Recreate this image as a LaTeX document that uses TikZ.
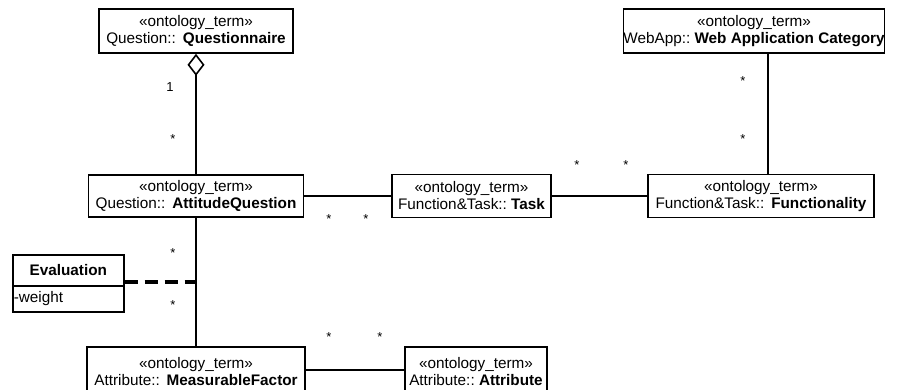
\documentclass[tikz,border=0pt]{standalone}
\usepackage{fontspec}
\setmainfont{Liberation Sans}
\usetikzlibrary{arrows.meta}
\begin{document}
\begin{tikzpicture}[x=1pt,y=-1pt,
  cls/.style={draw,line width=1.6pt,inner sep=0pt,align=center,font=\fontsize{15.3}{17}\selectfont,fill=white},
  conn/.style={line width=1.6pt},
  mult/.style={font=\fontsize{13}{14}\selectfont,inner sep=0pt}]
\useasboundingbox (0,0) rectangle (901,389);
\node[cls,minimum width=194,minimum height=44] (Q) at (196,31) {«ontology\_term»\\Question::\hspace{0.45em}\textbf{Questionnaire}};
\node[cls,minimum width=258,minimum height=44] (W) at (754,31) {«ontology\_term»\\WebApp::\ \textbf{Web Application Category}};
\node[cls,minimum width=215,minimum height=42] (AQ) at (196,196) {«ontology\_term»\\Question::\hspace{0.45em}\textbf{AttitudeQuestion}};
\node[cls,minimum width=159,minimum height=43] (T) at (471.5,196) {«ontology\_term»\\Function\&Task::\ \textbf{Task}};
\node[cls,minimum width=226,minimum height=43] (F) at (761,196) {«ontology\_term»\\Function\&Task::\hspace{0.45em}\textbf{Functionality}};
\node[cls,minimum width=218,minimum height=50] (MF) at (196,372) {«ontology\_term»\\Attribute::\hspace{0.45em}\textbf{MeasurableFactor}};
\node[cls,minimum width=142,minimum height=50] (A) at (476,372) {«ontology\_term»\\Attribute::\ \textbf{Attribute}};
\node[cls,minimum width=111,minimum height=31,anchor=north west] (EvT) at (12,254) {\textbf{Evaluation}};
\node[cls,minimum width=111,minimum height=26,anchor=north west,text width=109,align=left] (EvB) at (12,285) {-weight};
\coordinate (wf) at (768,0);
\coordinate (mid) at (196,282);
\draw[conn,{Diamond[open,length=22pt,width=17pt,line width=1.6pt]}-] (Q.south) -- (AQ.north);
\draw[conn] (W.south -| wf) -- (F.north -| wf);
\draw[conn] (AQ.east) -- (T.west);
\draw[conn] (T.east) -- (F.west);
\draw[conn] (AQ.south) -- (MF.north);
\draw[conn] (MF.east |- 0,370) -- (A.west |- 0,370);
\draw[line width=3.5pt,dash pattern=on 13pt off 7pt] (EvT.east |- mid) -- (mid);
\node[mult] (m1) at (170,87) {1};
\node[mult] (m2) at (173,139) {*};
\node[mult] (m3) at (743,81) {*};
\node[mult] (m4) at (743,139) {*};
\node[mult] (m5) at (329,219) {*};
\node[mult] (m6) at (366,219) {*};
\node[mult] (m7) at (577,165) {*};
\node[mult] (m8) at (626,165) {*};
\node[mult] (m9) at (173,253) {*};
\node[mult] (m10) at (173,305) {*};
\node[mult] (m11) at (329,337) {*};
\node[mult] (m12) at (380,337) {*};
\end{tikzpicture}
\end{document}
